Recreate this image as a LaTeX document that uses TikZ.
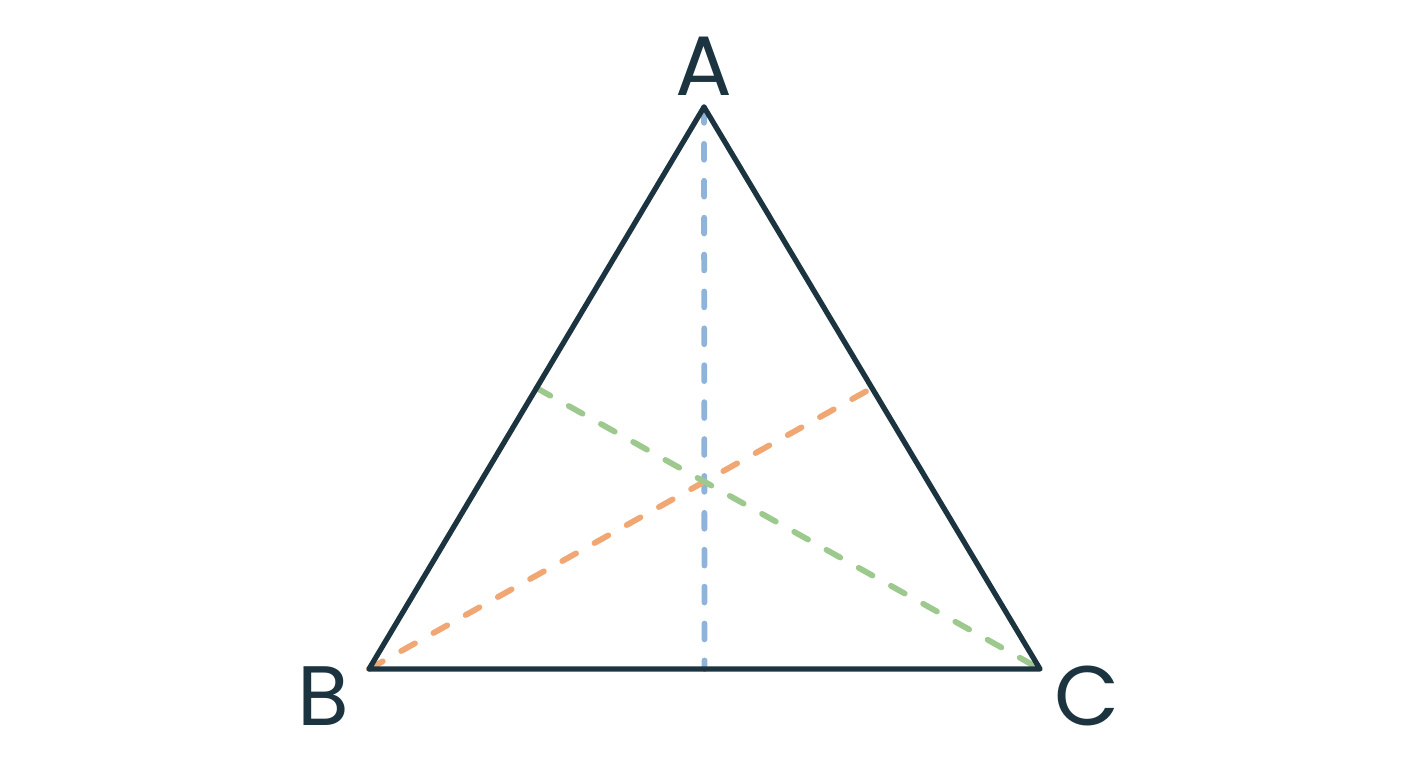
\documentclass[tikz,border=0pt]{standalone}
\usepackage{fontspec}
\setmainfont{Poppins}
\usetikzlibrary{calc}
\definecolor{edge}{HTML}{1B3440}
\definecolor{medA}{HTML}{8FB3D9}
\definecolor{medB}{HTML}{F0A773}
\definecolor{medC}{HTML}{9DC98F}
\begin{document}
\begin{tikzpicture}[
x=0.02cm, y=-0.02cm,
Sides/.style={draw=edge,line width=3pt,line join=round},
Medians/.style={line width=3.3pt,line cap=round,dash pattern=on 9pt off 12pt},
Labels/.style={text=edge,font=\fontsize{48}{50}\selectfont,anchor=base}
]
\useasboundingbox (0,0) rectangle (1408,768);

% vertices of the triangle
\coordinate (A) at (704,107);
\coordinate (B) at (369,669);
\coordinate (C) at (1040,669);

% midpoints of the sides
\coordinate (Mab) at ($(A)!0.5!(B)$);
\coordinate (Mac) at ($(A)!0.5!(C)$);
\coordinate (Mbc) at ($(B)!0.5!(C)$);

\draw[Medians, medA] (A)--(Mbc);
\draw[Medians, medB] (B)--(Mac);
\draw[Medians, medC] (Mab)--(C);

\draw[Sides] (A)--(B)--(C)--cycle;

\node[Labels] (labA) at (704,95) {A};
\node[Labels] (labB) at (323,725) {B};
\node[Labels] (labC) at (1087,725) {C};

\end{tikzpicture}
\end{document}
